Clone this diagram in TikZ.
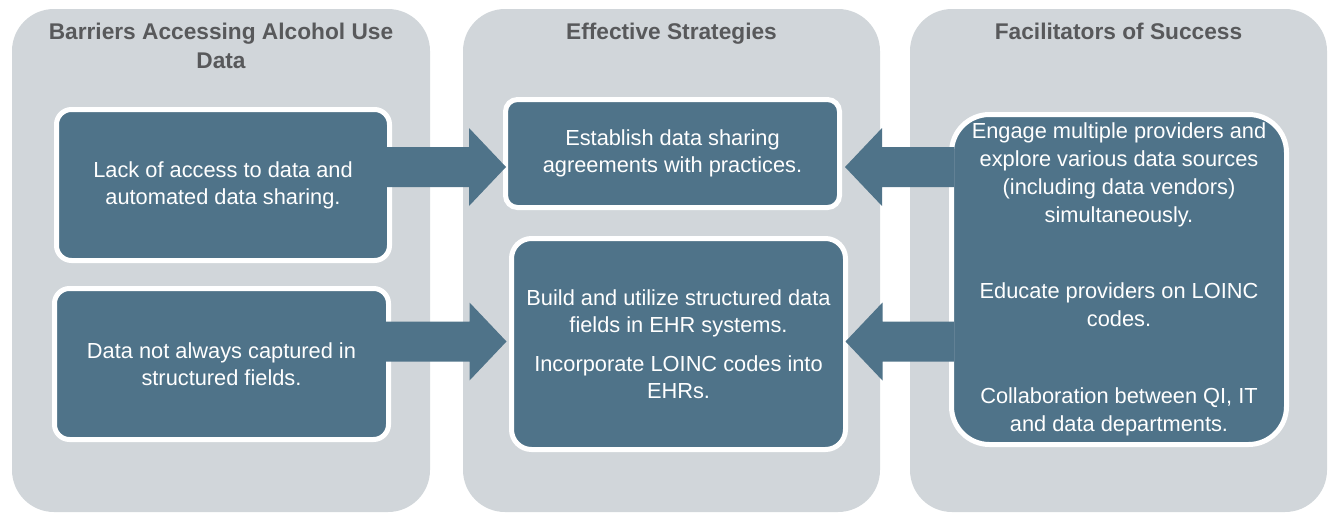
\documentclass[tikz,border=0pt]{standalone}
\usepackage{fontspec}
\setmainfont{Liberation Sans}
\usetikzlibrary{calc}
\definecolor{panelgray}{HTML}{D1D6DA}
\definecolor{boxblue}{HTML}{4F7389}
\definecolor{titlegray}{HTML}{58595B}
\tikzset{
  panel/.style={fill=panelgray, rounded corners=42pt, inner sep=0pt},
  box/.style={fill=boxblue, draw=white, line width=5pt, text=white, align=center,
    inner sep=0pt, font=\fontsize{21.8}{27.2}\selectfont},
  paneltitle/.style={text=titlegray, align=center,
    font=\bfseries\fontsize{22.7}{29}\selectfont, inner sep=0pt, anchor=north},
  arrowfill/.style={fill=boxblue},
}
% #1 start coordinate, #2 tip coordinate, #3 direction (1 = right, -1 = left)
\newcommand\fatarrow[3]{%
  \fill[arrowfill] ($(#1)+(0,-20)$) -- ($(#2)+({-37*#3},-20)$) -- ($(#2)+({-37*#3},-39)$)
    -- (#2) -- ($(#2)+({-37*#3},39)$) -- ($(#2)+({-37*#3},20)$) -- ($(#1)+(0,20)$) -- cycle;}
\begin{document}
\begin{tikzpicture}[x=1pt, y=-1pt]
\useasboundingbox (0,0) rectangle (1328,512);
% panels
\node[panel, minimum width=418pt, minimum height=503pt] (P1) at (221,260.5) {};
\node[panel, minimum width=417pt, minimum height=503pt] (P2) at (671.5,260.5) {};
\node[panel, minimum width=417pt, minimum height=503pt] (P3) at (1118.5,260.5) {};
% titles
\node[paneltitle] (T1) at (221,22.5) {Barriers Accessing Alcohol Use\\Data};
\node[paneltitle] (T2) at (671.5,22.5) {Effective Strategies};
\node[paneltitle] (T3) at (1118.5,22.5) {Facilitators of Success};
% boxes
\node[box, rounded corners=15pt, minimum width=333pt, minimum height=151pt] (A) at (223,185)
  {Lack of access to data and\\automated data sharing.};
\node[box, rounded corners=15pt, minimum width=334pt, minimum height=151pt] (B) at (221.5,364)
  {Data not always captured in\\structured fields.};
\node[box, rounded corners=12pt, minimum width=334pt, minimum height=108pt] (C) at (672.5,153.5)
  {Establish data sharing\\agreements with practices.};
\node[box, rounded corners=20pt, minimum width=334pt, minimum height=211pt] (D) at (678.5,344)
  {Build and utilize structured data\\fields in EHR systems.\\[12pt]Incorporate LOINC codes into\\EHRs.};
\node[box, rounded corners=38pt, minimum width=335pt, minimum height=330pt,
  font=\fontsize{21.8}{28}\selectfont] (E) at (1119,279.5)
  {Engage multiple providers and\\explore various data sources\\(including data vendors)\\simultaneously.\\[48pt]Educate providers on LOINC\\codes.\\[49pt]Collaboration between QI, IT\\and data departments.};
% arrows
\coordinate (r1) at (0,167);
\coordinate (r2) at (0,341.5);
\coordinate (a1s) at ($(A.east|-r1)+(-5,0)$);
\coordinate (a1t) at ($(C.west|-r1)+(3,0)$);
\coordinate (a2s) at ($(B.east|-r2)+(-5,0)$);
\coordinate (a2t) at ($(D.west|-r2)+(-2.5,0)$);
\coordinate (a3s) at ($(E.west|-r1)+(5,0)$);
\coordinate (a3t) at ($(C.east|-r1)+(3,0)$);
\coordinate (a4s) at ($(E.west|-r2)+(5,0)$);
\coordinate (a4t) at ($(D.east|-r2)+(-2.5,0)$);
\fatarrow{a1s}{a1t}{1}
\fatarrow{a2s}{a2t}{1}
\fatarrow{a3s}{a3t}{-1}
\fatarrow{a4s}{a4t}{-1}
\end{tikzpicture}
\end{document}
